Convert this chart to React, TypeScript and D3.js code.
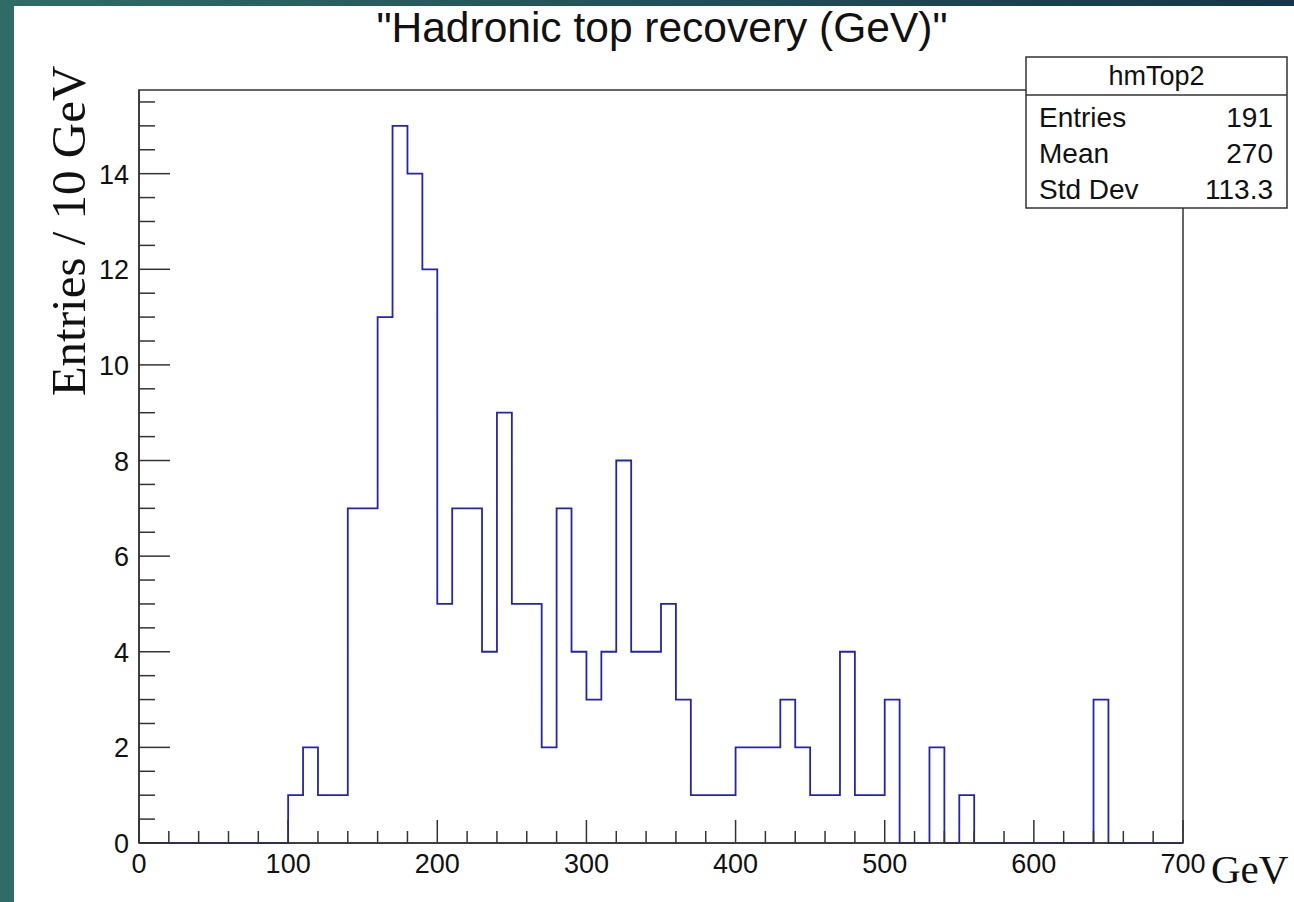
import React, {useEffect, useRef} from 'react'
import * as d3 from 'd3'

// histogram binning (GeV)
const binLow = 0
const binHigh = 700
const binWidth = 10

// entries per 10 GeV bin
const counts = [
    0, 0, 0, 0, 0, 0, 0, 0, 0, 0,
    1, 2, 1, 1, 7, 7, 11, 15, 14, 12,
    5, 7, 7, 4, 9, 5, 5, 2, 7, 4,
    3, 4, 8, 4, 4, 5, 3, 1, 1, 1,
    2, 2, 2, 3, 2, 1, 1, 4, 1, 1,
    3, 0, 0, 2, 0, 1, 0, 0, 0, 0,
    0, 0, 0, 0, 3, 0, 0, 0, 0, 0,
]

const xMajorTicks = [0, 100, 200, 300, 400, 500, 600, 700]
const yMajorTicks = [0, 2, 4, 6, 8, 10, 12, 14]
const yMax = 15.75

const title = '"Hadronic top recovery (GeV)"'
const yTitle = 'Entries / 10 GeV'
const xTitle = 'GeV'

const statsName = 'hmTop2'
const statsLabels = ['Entries', 'Mean', 'Std Dev']
const statsValues = ['191', '270', '113.3']

const W = 1294
const H = 902
const frame = {left: 139, right: 1183, top: 90, bottom: 843}
const sansFont = '"Liberation Sans", Arial, Helvetica, sans-serif'
const serifFont = '"Liberation Serif", "Times New Roman", serif'
const axisColor = '#333'

export default function App() {
    const svgRef = useRef<SVGSVGElement>(null)

    useEffect(() => {
        const svg = d3.select(svgRef.current)
        svg.selectAll('*').remove()

        const x = d3.scaleLinear().domain([binLow, binHigh]).range([frame.left, frame.right])
        const y = d3.scaleLinear().domain([0, yMax]).range([frame.bottom, frame.top])

        // slide background border
        const defs = svg.append('defs')
        const grad = defs.append('linearGradient').attr('id', 'topband')
        grad.append('stop').attr('offset', '0%').attr('stop-color', '#2f6c67')
        grad.append('stop').attr('offset', '100%').attr('stop-color', '#15364a')
        svg.append('rect').attr('width', W).attr('height', H).attr('fill', '#fff')
        svg.append('rect').attr('width', W).attr('height', 6).attr('fill', 'url(#topband)')
        svg.append('rect').attr('width', 14).attr('height', H).attr('fill', '#2f6c67')

        // frame
        svg.append('rect')
            .attr('x', frame.left).attr('y', frame.top)
            .attr('width', frame.right - frame.left).attr('height', frame.bottom - frame.top)
            .attr('fill', 'none').attr('stroke', axisColor).attr('stroke-width', 1.5)

        // histogram outline
        const pts: [number, number][] = counts.map((c, i) => [binLow + i * binWidth, c])
        pts.push([binHigh, counts[counts.length - 1]])
        const line = d3.line<[number, number]>()
            .x(d => x(d[0]))
            .y(d => y(d[1]))
            .curve(d3.curveStepAfter)
        svg.append('path')
            .attr('d', line(pts) as string)
            .attr('fill', 'none')
            .attr('stroke', '#2424b4')
            .attr('stroke-width', 1.8)

        // axes
        const axes = svg.append('g').attr('stroke', axisColor).attr('stroke-width', 1.5)
        axes.append('line').attr('x1', frame.left).attr('x2', frame.right)
            .attr('y1', frame.bottom).attr('y2', frame.bottom)
        axes.append('line').attr('x1', frame.left).attr('x2', frame.left)
            .attr('y1', frame.top).attr('y2', frame.bottom)

        const xMinor = d3.range(binLow, binHigh + 1, 20)
        axes.selectAll('line.xt')
            .data(xMinor)
            .join('line')
            .attr('class', 'xt')
            .attr('x1', d => x(d)).attr('x2', d => x(d))
            .attr('y1', frame.bottom)
            .attr('y2', d => frame.bottom - (d % 100 === 0 ? 23 : 12))

        const yMinor = d3.range(0, yMax, 0.5)
        axes.selectAll('line.yt')
            .data(yMinor)
            .join('line')
            .attr('class', 'yt')
            .attr('x1', frame.left)
            .attr('x2', d => frame.left + (d % 2 === 0 ? 31 : 16))
            .attr('y1', d => y(d)).attr('y2', d => y(d))

        svg.append('g')
            .selectAll('text')
            .data(xMajorTicks)
            .join('text')
            .attr('x', d => x(d))
            .attr('y', 873)
            .attr('text-anchor', 'middle')
            .attr('font-family', sansFont)
            .attr('font-size', 27)
            .attr('fill', '#111')
            .text(d => d)

        svg.append('g')
            .selectAll('text')
            .data(yMajorTicks)
            .join('text')
            .attr('x', 129)
            .attr('y', d => y(d) + 10)
            .attr('text-anchor', 'end')
            .attr('font-family', sansFont)
            .attr('font-size', 27)
            .attr('fill', '#111')
            .text(d => d)

        // titles
        svg.append('text')
            .attr('x', 662).attr('y', 42)
            .attr('text-anchor', 'middle')
            .attr('font-family', sansFont)
            .attr('font-size', 42.5)
            .attr('fill', '#111')
            .text(title)

        svg.append('text')
            .attr('transform', 'translate(85,231) rotate(-90)')
            .attr('text-anchor', 'middle')
            .attr('font-family', serifFont)
            .attr('font-size', 49)
            .attr('fill', '#111')
            .text(yTitle)

        svg.append('text')
            .attr('x', 1211).attr('y', 883)
            .attr('font-family', serifFont)
            .attr('font-size', 41)
            .attr('fill', '#111')
            .text(xTitle)

        // stats box
        const box = {x: 1026, y: 57, w: 261, h: 151, head: 38}
        const stats = svg.append('g')
        stats.append('rect')
            .attr('x', box.x).attr('y', box.y).attr('width', box.w).attr('height', box.h)
            .attr('fill', '#fff').attr('stroke', axisColor).attr('stroke-width', 1.5)
        stats.append('line')
            .attr('x1', box.x).attr('x2', box.x + box.w)
            .attr('y1', box.y + box.head).attr('y2', box.y + box.head)
            .attr('stroke', axisColor).attr('stroke-width', 1.5)
        stats.append('text')
            .attr('x', box.x + box.w / 2).attr('y', box.y + 28)
            .attr('text-anchor', 'middle')
            .attr('font-family', sansFont).attr('font-size', 27).attr('fill', '#111')
            .text(statsName)
        statsLabels.forEach((lab, i) => {
            const by = 127 + i * 36
            stats.append('text')
                .attr('x', 1039).attr('y', by)
                .attr('font-family', sansFont).attr('font-size', 28).attr('fill', '#111')
                .text(lab)
            stats.append('text')
                .attr('x', 1273).attr('y', by)
                .attr('text-anchor', 'end')
                .attr('font-family', sansFont).attr('font-size', 28).attr('fill', '#111')
                .text(statsValues[i])
        })
    }, [])

    return (
        <svg
            ref={svgRef}
            width={W}
            height={H}
            style={{position: 'absolute', left: 0, top: 0, display: 'block'}}
        />
    )
}
